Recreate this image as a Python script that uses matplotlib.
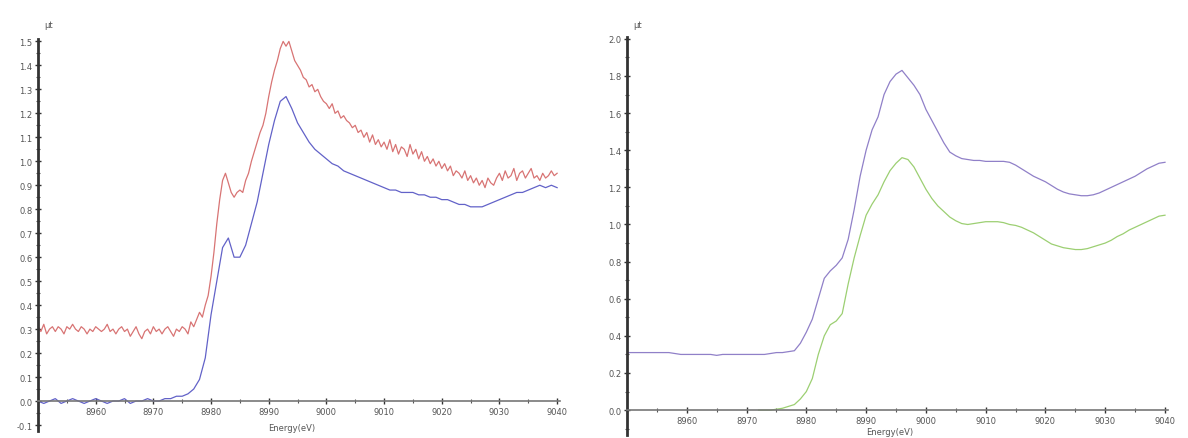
import numpy as np
import matplotlib
matplotlib.use("Agg")
import matplotlib.pyplot as plt
from matplotlib.ticker import MultipleLocator, FormatStrFormatter

# ---------------- data ----------------
# Left panel (0.5 eV step red, 1 eV step blue)
e_red = np.arange(8950, 9040.01, 0.5)
red = [
    0.31,0.29,0.32,0.28,0.30,0.31,0.29,0.31,0.30,0.28,0.31,0.30,0.32,0.30,0.29,0.31,0.30,0.28,0.30,0.29,
    0.31,0.30,0.29,0.30,0.32,0.29,0.30,0.28,0.30,0.31,0.29,0.30,0.27,0.29,0.31,0.28,0.26,0.29,0.30,0.28,
    0.31,0.29,0.30,0.28,0.30,0.31,0.29,0.27,0.30,0.29,0.31,0.30,0.28,0.33,0.31,0.34,0.37,0.35,0.40,0.44,
    0.52,0.62,0.74,0.84,0.92,0.95,0.91,0.87,0.85,0.87,0.88,0.87,0.92,0.95,1.00,1.04,1.08,1.12,1.15,1.20,
    1.27,1.33,1.38,1.42,1.47,1.50,1.48,1.50,1.46,1.42,1.40,1.38,1.35,1.34,1.31,1.32,1.29,1.30,1.27,1.25,
    1.24,1.22,1.24,1.20,1.21,1.18,1.19,1.17,1.16,1.14,1.15,1.12,1.13,1.10,1.12,1.08,1.11,1.07,1.09,1.06,
    1.08,1.05,1.09,1.04,1.07,1.03,1.06,1.05,1.02,1.07,1.03,1.05,1.01,1.04,1.00,1.02,0.99,1.01,0.98,1.00,
    0.97,0.99,0.96,0.98,0.94,0.96,0.95,0.93,0.96,0.92,0.94,0.91,0.93,0.90,0.92,0.89,0.93,0.91,0.90,0.93,
    0.95,0.92,0.96,0.93,0.94,0.97,0.92,0.95,0.96,0.93,0.95,0.97,0.93,0.94,0.92,0.95,0.93,0.94,0.96,0.94,
    0.95,
]
e_blue = np.arange(8950, 9041, 1)
blue = [
    0.00,-0.01,0.00,0.01,-0.01,0.00,0.01,0.00,-0.01,0.00,
    0.01,0.00,-0.01,0.00,0.00,0.01,-0.01,0.00,0.00,0.01,
    0.00,0.00,0.01,0.01,0.02,0.02,0.03,0.05,0.09,0.18,
    0.36,0.50,0.64,0.68,0.60,0.60,0.65,0.74,0.83,0.95,
    1.07,1.17,1.25,1.27,1.22,1.16,1.12,1.08,1.05,1.03,
    1.01,0.99,0.98,0.96,0.95,0.94,0.93,0.92,0.91,0.90,
    0.89,0.88,0.88,0.87,0.87,0.87,0.86,0.86,0.85,0.85,
    0.84,0.84,0.83,0.82,0.82,0.81,0.81,0.81,0.82,0.83,
    0.84,0.85,0.86,0.87,0.87,0.88,0.89,0.90,0.89,0.90,
    0.89,
]

# Right panel
e_purple = np.arange(8950, 9041, 1)
purple = [
    0.31,0.31,0.31,0.31,0.31,0.31,0.31,0.31,0.305,0.30,
    0.30,0.30,0.30,0.30,0.30,0.295,0.30,0.30,0.30,0.30,
    0.30,0.30,0.30,0.30,0.305,0.31,0.31,0.315,0.32,0.36,
    0.42,0.49,0.60,0.71,0.75,0.78,0.82,0.92,1.08,1.26,
    1.40,1.51,1.58,1.70,1.77,1.81,1.83,1.79,1.75,1.70,
    1.62,1.56,1.50,1.44,1.39,1.37,1.355,1.35,1.345,1.345,
    1.34,1.34,1.34,1.34,1.335,1.32,1.30,1.28,1.26,1.245,
    1.23,1.21,1.19,1.175,1.165,1.16,1.155,1.155,1.16,1.17,
    1.185,1.20,1.215,1.23,1.245,1.26,1.28,1.30,1.315,1.33,
    1.335,
]
e_green = np.arange(8972, 9041, 1)
green = [
    0.00,0.00,0.00,0.005,0.01,0.02,0.03,0.06,
    0.10,0.17,0.30,0.40,0.46,0.48,0.52,0.68,0.82,0.94,
    1.05,1.11,1.16,1.23,1.29,1.33,1.36,1.35,1.31,1.25,
    1.19,1.14,1.10,1.07,1.04,1.02,1.005,1.00,1.005,1.01,
    1.015,1.015,1.015,1.01,1.00,0.995,0.985,0.97,0.955,0.935,
    0.915,0.895,0.885,0.875,0.87,0.865,0.865,0.87,0.88,0.89,
    0.90,0.915,0.935,0.95,0.97,0.985,1.00,1.015,1.03,1.045,
    1.05,
]

x_ticks = [8960, 8970, 8980, 8990, 9000, 9010, 9020, 9030, 9040]
x_label = "Energy(eV)"
y_label = "μt"

# ---------------- figure ----------------
fig = plt.figure(figsize=(11.88, 4.39), dpi=100)
ax1 = fig.add_axes([38/1188, (439-432)/439, (560-38)/1188, (432-40)/439])
ax2 = fig.add_axes([627/1188, (439-436)/439, (1168-627)/1188, (436-38)/439])

ax1.plot(e_red, red, color="#d87474", lw=0.9)
ax1.plot(e_blue, blue, color="#6262c8", lw=0.9)
ax2.plot(e_purple, purple, color="#9080c8", lw=0.9)
ax2.plot(e_green, green, color="#9ccf72", lw=0.9)

ax1.set_xlim(8950, 9040.5)
ax1.set_ylim(-0.125, 1.51)
ax2.set_xlim(8950, 9040.5)
ax2.set_ylim(-0.134, 2.01)

label_col = "#555555"
for ax, ymaj, ymin, fmt in [(ax1, 0.1, 0.05, "%.1f"), (ax2, 0.2, 0.1, "%.1f")]:
    ax.spines["top"].set_visible(False)
    ax.spines["right"].set_visible(False)
    ax.spines["bottom"].set_position(("data", 0))
    ax.spines["bottom"].set_color("#777777")
    ax.spines["bottom"].set_linewidth(1.2)
    ax.spines["left"].set_color("#333333")
    ax.spines["left"].set_linewidth(2.0)
    ax.set_xticks(x_ticks)
    ax.xaxis.set_minor_locator(MultipleLocator(5))
    ax.yaxis.set_major_locator(MultipleLocator(ymaj))
    ax.yaxis.set_minor_locator(MultipleLocator(ymin))
    ax.yaxis.set_major_formatter(FormatStrFormatter(fmt))
    ax.tick_params(axis="both", which="major", direction="inout", length=4,
                   width=1.0, labelsize=6, labelcolor=label_col, color="#333333", pad=2)
    ax.tick_params(axis="both", which="minor", direction="inout", length=3,
                   width=0.8, color="#555555")
    ax.set_facecolor("white")

ax1.text(8951, 1.57, y_label, fontsize=6, color=label_col, ha="left", va="center", clip_on=False)
ax2.text(8951, 2.08, y_label, fontsize=6, color=label_col, ha="left", va="center", clip_on=False)
ax1.text(8994, -0.11, x_label, fontsize=6, color=label_col, ha="center", va="center")
ax2.text(8994, -0.115, x_label, fontsize=6, color=label_col, ha="center", va="center")

fig.savefig("out.png", dpi=100)
